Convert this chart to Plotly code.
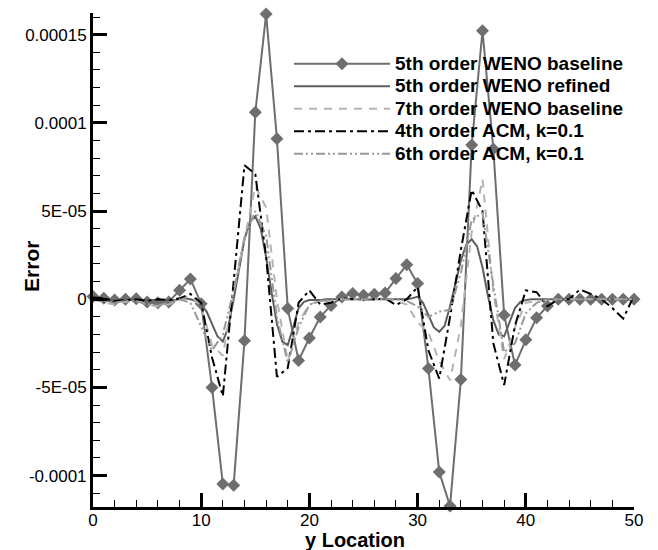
import plotly.graph_objects as go

# ---------------- data ----------------
x_base = list(range(0, 51))

weno5_base = [1.5e-6, 0.5e-6, -0.5e-6, 0.0, 0.3e-6, -1.5e-6, -2e-6, -1.5e-6, 5.1e-6, 1.15e-5,
              -2.5e-6, -5.0e-5, -1.048e-4, -1.055e-4, -2.35e-5, 1.06e-4, 1.617e-4, 9.1e-5, -5.3e-6, -3.47e-5,
              -2.2e-5, -1.0e-5, -3.5e-6, 1.3e-6, 3.2e-6, 2.3e-6, 2.8e-6, 3.6e-6, 1.17e-5, 1.96e-5,
              8.9e-6, -3.92e-5, -9.8e-5, -1.173e-4, -4.55e-5, 8.74e-5, 1.522e-4, 8.52e-5, -9e-6, -3.73e-5,
              -2.3e-5, -1.05e-5, -3.9e-6, 0.0, 0.0, 0.0, 0.0, 0.0, 0.0, 0.0, 0.0]

x_refined = [i * 0.5 for i in range(101)]
weno5_refined = [0.5e-6, 0.0, -0.5e-6, -1e-6, -1e-6, -0.5e-6, -0.5e-6, -0.5e-6, -0.5e-6, -0.5e-6,   # 0-4.5
                 -0.5e-6, -0.5e-6, -0.5e-6, -0.5e-6, -0.5e-6, -0.5e-6, 0.0, 0.5e-6, 0.0, -1e-6,   # 5-9.5
                 -3e-6, -7e-6, -1.4e-5, -2.1e-5, -2.4e-5, -1.6e-5, 0.0, 1.8e-5, 3.4e-5, 4.4e-5,     # 10-14.5
                 4.7e-5, 4.0e-5, 2.4e-5, 4e-6, -1.4e-5, -2.4e-5, -2.6e-5, -1.6e-5, -5e-6, -1.5e-6,   # 15-19.5
                 -0.5e-6, -0.5e-6, -0.5e-6, 0.0, 0.0, 0.0, 0.0, 0.0, 0.0, 0.0,                      # 20-24.5
                 0.0, 0.0, 0.0, 0.0, 0.0, 0.0, 0.0, 0.0, 0.0, 0.5e-6,                               # 25-29.5
                 1.5e-6, -2e-6, -9e-6, -1.6e-5, -1.85e-5, -1.5e-5, -4e-6, 9e-6, 2.2e-5, 3.1e-5,     # 30-34.5
                 3.4e-5, 3.0e-5, 1.8e-5, 2e-6, -1.2e-5, -2.0e-5, -2.1e-5, -1.3e-5, -5e-6, -1.5e-6,  # 35-39.5
                 -0.5e-6, 0.0, 0.0, 0.0, 0.0, 0.0, 0.0, 0.0, 0.0, 0.0,                              # 40-44.5
                 0.0, 0.0, 0.0, 0.0, 0.0, 0.0, 0.0, 0.0, 0.0, 0.0,                                  # 45-49.5
                 0.0]                                                                               # 50

weno7_base = [0.0, -2e-6, -3e-6, -1.5e-6, -1e-6, -3e-6, -4e-6, -3e-6, 0.0, 2e-6,
              -4e-6, -2.6e-5, -3.2e-5, 4e-6, 3.4e-5, 6.4e-5, 5.2e-5, 0.0, -3.5e-5, -1.3e-5,
              -3e-6, -1e-6, -1e-6, 0.0, 0.5e-6, 0.0, 0.0, 0.0, -1e-6, -3e-6,
              -1.3e-5, -1.9e-5, -3.5e-5, -4.6e-5, -1.5e-5, 3.8e-5, 6.8e-5, 4e-6, -3.4e-5, -1.6e-5,
              -2e-6, -1e-6, -0.5e-6, 0.0, 0.0, 0.0, 0.0, 0.0, 0.0, 0.0, 0.0]

acm4 = [1e-6, 0.5e-6, -1e-6, -0.5e-6, 0.0, -1e-6, 0.0, -0.5e-6, 0.5e-6, 3e-6,
        -2e-6, -3.3e-5, -5.5e-5, 1e-5, 7.6e-5, 7.1e-5, 2.4e-5, -4.4e-5, -3.9e-5, -2e-6,
        5e-6, -3e-6, -2e-6, 0.5e-6, 0.0, 0.0, 0.0, 0.5e-6, -3.3e-6, 0.0,
        7e-6, -2.9e-5, -4.5e-5, -1e-5, 2.8e-5, 6.2e-5, 5e-5, -2.5e-5, -4.86e-5, -1.5e-5,
        5e-6, 4e-6, -4e-6, 0.0, 0.0, 5.5e-6, 3e-6, 0.0, -5e-6, -1.1e-5, 2e-6]

acm6 = [0.0, -1e-6, -2e-6, -1e-6, -1e-6, -3e-6, -3.5e-6, -2e-6, 0.0, -2e-6,
        -1.6e-5, -2.9e-5, -2e-5, 5e-6, 3.5e-5, 5e-5, 3.6e-5, -1e-5, -3.6e-5, -1.6e-5,
        -3e-6, -1e-6, -0.5e-6, 0.0, 0.0, 0.0, 0.5e-6, 0.0, 0.0, -1e-6,
        -4e-6, -1e-5, -7e-6, -6e-6, 1.5e-5, 4.5e-5, 4.9e-5, 8e-6, -3e-5, -2.5e-5,
        -8e-6, -2e-6, 0.0, 0.0, 0.0, 0.0, 0.0, 0.0, 0.0, 0.0, 0.0]

names = ["5th order WENO baseline", "5th order WENO refined", "7th order WENO baseline",
         "4th order ACM, k=0.1", "6th order ACM, k=0.1"]

y_tickvals = [-1e-4, -5e-5, 0, 5e-5, 1e-4, 1.5e-4]
y_ticktext = ["-0.0001", "-5E-05", "0", "5E-05", "0.0001", "0.00015"]
x_tickvals = [0, 10, 20, 30, 40, 50]

# ---------------- figure ----------------
FONT = "Liberation Sans, Arial, Helvetica, sans-serif"


def leg(name):
    return '<span style="font-size:19px">' + name + '</span>'


fig = go.Figure()

fig.add_trace(go.Scatter(x=x_base, y=weno5_base, name=leg(names[0]), mode="lines+markers",
                         line=dict(color="#6e6e6e", width=2),
                         marker=dict(symbol="diamond", size=10, color="#6e6e6e"),
                         cliponaxis=False))
fig.add_trace(go.Scatter(x=x_refined, y=weno5_refined, name=leg(names[1]), mode="lines",
                         line=dict(color="#5e5e5e", width=2)))
fig.add_trace(go.Scatter(x=x_base, y=weno7_base, name=leg(names[2]), mode="lines",
                         line=dict(color="#b4b4b4", width=2, dash="8px,7px")))
fig.add_trace(go.Scatter(x=x_base, y=acm4, name=leg(names[3]), mode="lines",
                         line=dict(color="#000000", width=2, dash="10px,4px,3px,4px")))
fig.add_trace(go.Scatter(x=x_base, y=acm6, name=leg(names[4]), mode="lines",
                         line=dict(color="#999999", width=2, dash="9px,3px,2px,3px,2px,3px")))

fig.update_layout(
    width=658, height=550,
    margin=dict(l=93, r=24, t=13, b=43),
    paper_bgcolor="white", plot_bgcolor="white",
    font=dict(family=FONT, color="black", size=17),
    showlegend=True,
    legend=dict(x=0.3623, y=0.93, xanchor="left", yanchor="top",
                bgcolor="rgba(0,0,0,0)", borderwidth=0,
                font=dict(family=FONT, size=15, color="black", weight="bold"),
                itemwidth=96, tracegroupgap=0),
    annotations=[
        dict(text="<b>Error</b>", xref="paper", yref="paper", x=-0.1128, y=0.488,
             xanchor="center", yanchor="middle", textangle=-90, showarrow=False,
             font=dict(family=FONT, size=21, color="black")),
        dict(text="<b>y Location</b>", xref="paper", yref="paper", x=0.484, y=-0.0678,
             xanchor="center", yanchor="middle", showarrow=False,
             font=dict(family=FONT, size=20, color="black")),
    ],
)

fig.update_xaxes(range=[0, 50], showline=True, linecolor="black", linewidth=3,
                 showgrid=False, zeroline=False, mirror=False,
                 tickvals=x_tickvals, ticks="inside", ticklen=14, tickwidth=2.5, tickcolor="black",
                 tickfont=dict(size=17, family=FONT), ticklabelstandoff=-4,
                 minor=dict(ticks="inside", ticklen=7, tickwidth=1.2, dtick=2, tickcolor="black", showgrid=False))
fig.update_yaxes(range=[-1.178e-4, 1.623e-4], showline=True, linecolor="black", linewidth=3,
                 showgrid=False, zeroline=False, mirror=False,
                 tickvals=y_tickvals, ticktext=y_ticktext, ticks="inside", ticklen=14, tickwidth=2.5,
                 tickcolor="black", tickfont=dict(size=17, family=FONT),
                 minor=dict(ticks="inside", ticklen=7, tickwidth=1.2, dtick=1e-5, tickcolor="black", showgrid=False))

fig.write_html("out.html")
